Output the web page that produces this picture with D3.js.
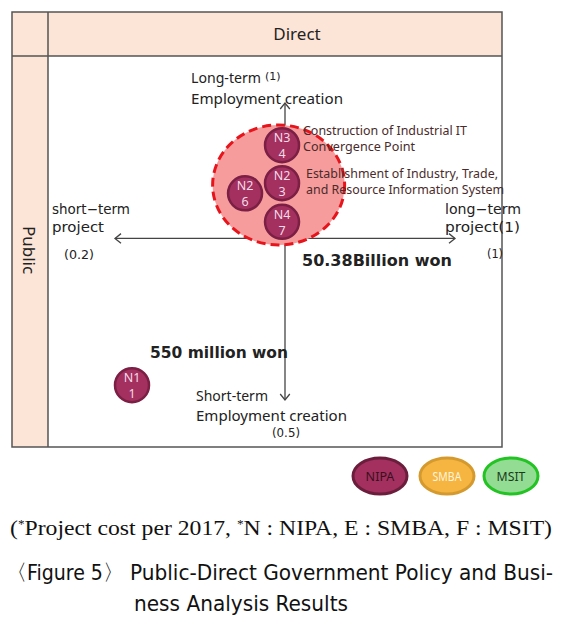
<!DOCTYPE html>
<html><head><meta charset="utf-8">
<script src="https://cdn.jsdelivr.net/npm/d3@7"></script>
<style>body{margin:0;background:#fff}svg{display:block}</style>
</head><body>
<script>
// ---- data ----
const agencyCodes = ["N3", "N2", "N2", "N4", "N1"];
const projectNumbers = ["4", "3", "6", "7", "1"];
const termValues = [0.593, 0.593, 0.506, 0.593, 0.24];        // x: short-term (0.2) .. long-term (1)
const employmentValues = [0.929, 0.865, 0.848, 0.800, 0.525]; // y: short-term (0.5) .. long-term (1)
const xDomain = [0.2, 1];
const yDomain = [0.5, 1];
const xTickLabels = ["(0.2)", "(1)"];
const yTickLabels = ["(0.5)", "(1)"];
const legendNames = ["NIPA", "SMBA", "MSIT"];
const clusterNames = ["Construction of Industrial IT|Convergence Point", "Establishment of Industry, Trade,|and Resource Information System"];
const costLabels = ["50.38Billion won", "550 million won"];

const W = 567, H = 619;
const svg = d3.select("body").append("svg").attr("width", W).attr("height", H);
const font = "'Noto Sans', sans-serif";

// frame
const L = 12, R = 502, T = 12, B = 447, colW = 48, rowH = 56;
svg.append("rect").attr("x", L).attr("y", T).attr("width", R - L).attr("height", rowH - T).attr("fill", "#fce4d6");
svg.append("rect").attr("x", L).attr("y", T).attr("width", colW - L).attr("height", B - T).attr("fill", "#fce4d6");
const frame = svg.append("g").attr("stroke", "#555").attr("stroke-width", 1.5).attr("fill", "none");
frame.append("rect").attr("x", L).attr("y", T).attr("width", R - L).attr("height", B - T);
frame.append("line").attr("x1", colW).attr("x2", colW).attr("y1", T).attr("y2", B);
frame.append("line").attr("x1", L).attr("x2", R).attr("y1", rowH).attr("y2", rowH);
svg.append("text").attr("x", 297).attr("y", 40).attr("text-anchor", "middle").attr("font-family", font)
  .attr("font-size", 17).attr("fill", "#222").text("Direct");
svg.append("text").attr("transform", "translate(23,250) rotate(90)").attr("text-anchor", "middle")
  .attr("font-family", font).attr("font-size", 17).attr("fill", "#222").text("Public");

// scales
const x = d3.scaleLinear().domain(xDomain).range([115, 455]);
const y = d3.scaleLinear().domain(yDomain).range([400, 103]);
const xCross = 0.6, yCross = 0.772;

// arrows
const ax = svg.append("g").attr("stroke", "#444").attr("stroke-width", 1.3).attr("fill", "none");
ax.append("line").attr("x1", x(xDomain[0])).attr("x2", x(xDomain[1])).attr("y1", y(yCross)).attr("y2", y(yCross));
ax.append("line").attr("x1", x(xCross)).attr("x2", x(xCross)).attr("y1", y(yDomain[1])).attr("y2", y(yDomain[0]));
function chevron(px, py, dir) {
  const s = 6; let d;
  if (dir === "l") d = `M${px + s},${py - s * 0.8}L${px},${py}L${px + s},${py + s * 0.8}`;
  if (dir === "r") d = `M${px - s},${py - s * 0.8}L${px},${py}L${px - s},${py + s * 0.8}`;
  if (dir === "u") d = `M${px - s * 0.8},${py + s}L${px},${py}L${px + s * 0.8},${py + s}`;
  if (dir === "d") d = `M${px - s * 0.8},${py - s}L${px},${py}L${px + s * 0.8},${py - s}`;
  ax.append("path").attr("d", d);
}
chevron(x(xDomain[0]), y(yCross), "l");
chevron(x(xDomain[1]), y(yCross), "r");
chevron(x(xCross), y(yDomain[1]), "u");
chevron(x(xCross), y(yDomain[0]), "d");

// axis labels
function txt(tx, ty, s, size, opts = {}) {
  const t = svg.append("text").attr("x", tx).attr("y", ty).attr("font-family", opts.family || font)
    .attr("font-size", size).attr("fill", opts.fill || "#222").text(s);
  if (opts.weight) t.attr("font-weight", opts.weight);
  if (opts.anchor) t.attr("text-anchor", opts.anchor);
  if (opts.len) t.attr("textLength", opts.len).attr("lengthAdjust", "spacingAndGlyphs");
  return t;
}
const dotum = "'DejaVu Sans', sans-serif";
txt(191, 83, "Long-term", 14.5, { len: 70 });
txt(265, 80, yTickLabels[1], 11, { family: dotum });
txt(191, 104, "Employment creation", 14.5, { len: 152 });
txt(196, 401, "Short-term", 14.5, { len: 72 });
txt(196, 421, "Employment creation", 14.5, { len: 151 });
txt(272, 437, yTickLabels[0], 11.5, { family: dotum, len: 28 });
txt(52, 214, "short−term", 13.5, { family: dotum, len: 78 });
txt(52, 232, "project", 13.5, { family: dotum, len: 52 });
txt(64, 259, xTickLabels[0], 11.5, { family: dotum, len: 30 });
txt(445, 214, "long−term", 13.5, { family: dotum, len: 76 });
txt(445, 232, "project(1)", 13.5, { family: dotum, len: 75 });
txt(487, 258, xTickLabels[1], 11.5, { family: dotum, len: 16 });

// cluster ellipse
const cx0 = x(0.585), cy0 = y(0.862);
svg.append("ellipse").attr("cx", cx0).attr("cy", cy0).attr("rx", 66).attr("ry", 60)
  .attr("fill", "#f79c9c").attr("stroke", "#e8141b").attr("stroke-width", 3).attr("stroke-dasharray", "9,5");

// cluster texts
clusterNames.forEach((n, i) => {
  const lines = n.split("|");
  const bx = i === 0 ? 303 : 306, by = i === 0 ? 135 : 178;
  lines.forEach((l, j) => txt(bx, by + j * 16, l, 12, { fill: "#4a2b2b", len: i === 0 ? (j === 0 ? 164 : 112) : (j === 0 ? 192 : 198) }));
});

// points
const pts = agencyCodes.map((c, i) => ({ c, n: projectNumbers[i], x: termValues[i], y: employmentValues[i] }));
const g = svg.append("g").selectAll("g").data(pts).join("g")
  .attr("transform", d => `translate(${x(d.x)},${y(d.y)})`);
g.append("circle").attr("r", 17).attr("fill", "#a3305f").attr("stroke", "#7b1f45").attr("stroke-width", 2.5);
g.append("text").attr("y", -3).attr("text-anchor", "middle").attr("font-family", font).attr("font-size", 12.5)
  .attr("fill", "#f4dbe6").text(d => d.c);
g.append("text").attr("y", 13).attr("text-anchor", "middle").attr("font-family", font).attr("font-size", 12.5)
  .attr("fill", "#f4dbe6").text(d => d.n);

// cost labels
txt(302, 266, costLabels[0], 16.5, { weight: "bold", family: "'DejaVu Sans', sans-serif", len: 150 });
txt(150, 358, costLabels[1], 16.5, { weight: "bold", family: "'DejaVu Sans', sans-serif", len: 138 });

// legend
const legendFill = ["#a3305f", "#f6b540", "#93dc93"];
const legendStroke = ["#6b1e3c", "#d59a2e", "#22c322"];
const legendText = ["#3a1020", "#fff4dc", "#1d3a1d"];
const lx = [380, 447, 511];
legendNames.forEach((nm, i) => {
  svg.append("ellipse").attr("cx", lx[i]).attr("cy", 476).attr("rx", 27).attr("ry", 18)
    .attr("fill", legendFill[i]).attr("stroke", legendStroke[i]).attr("stroke-width", 3);
  txt(lx[i], 481, nm, 12, { anchor: "middle", fill: legendText[i], len: nm.length * 7.2 });
});

// footnote + caption
const fn = svg.append("text").attr("x", 10).attr("y", 535).attr("font-family", "'Liberation Serif', serif")
  .attr("font-size", 21.5).attr("fill", "#111").attr("textLength", 542).attr("lengthAdjust", "spacingAndGlyphs");
fn.append("tspan").text("(");
fn.append("tspan").attr("font-size", 12).attr("dy", -7).text("*");
fn.append("tspan").attr("dy", 7).text("Project cost per 2017, ");
fn.append("tspan").attr("font-size", 12).attr("dy", -7).text("*");
fn.append("tspan").attr("dy", 7).text("N : NIPA, E : SMBA, F : MSIT)");
const capFont = "'Liberation Sans Narrow', 'DejaVu Sans Condensed', 'Noto Sans', sans-serif";
txt(6, 580, "〈Figure 5〉", 22, { fill: "#111", family: capFont, len: 118 });
txt(130, 580, "Public-Direct Government Policy and Busi-", 22, { fill: "#111", family: capFont, len: 423 });
txt(134, 611, "ness Analysis Results", 22, { fill: "#111", family: capFont, len: 214 });
</script>
</body></html>
